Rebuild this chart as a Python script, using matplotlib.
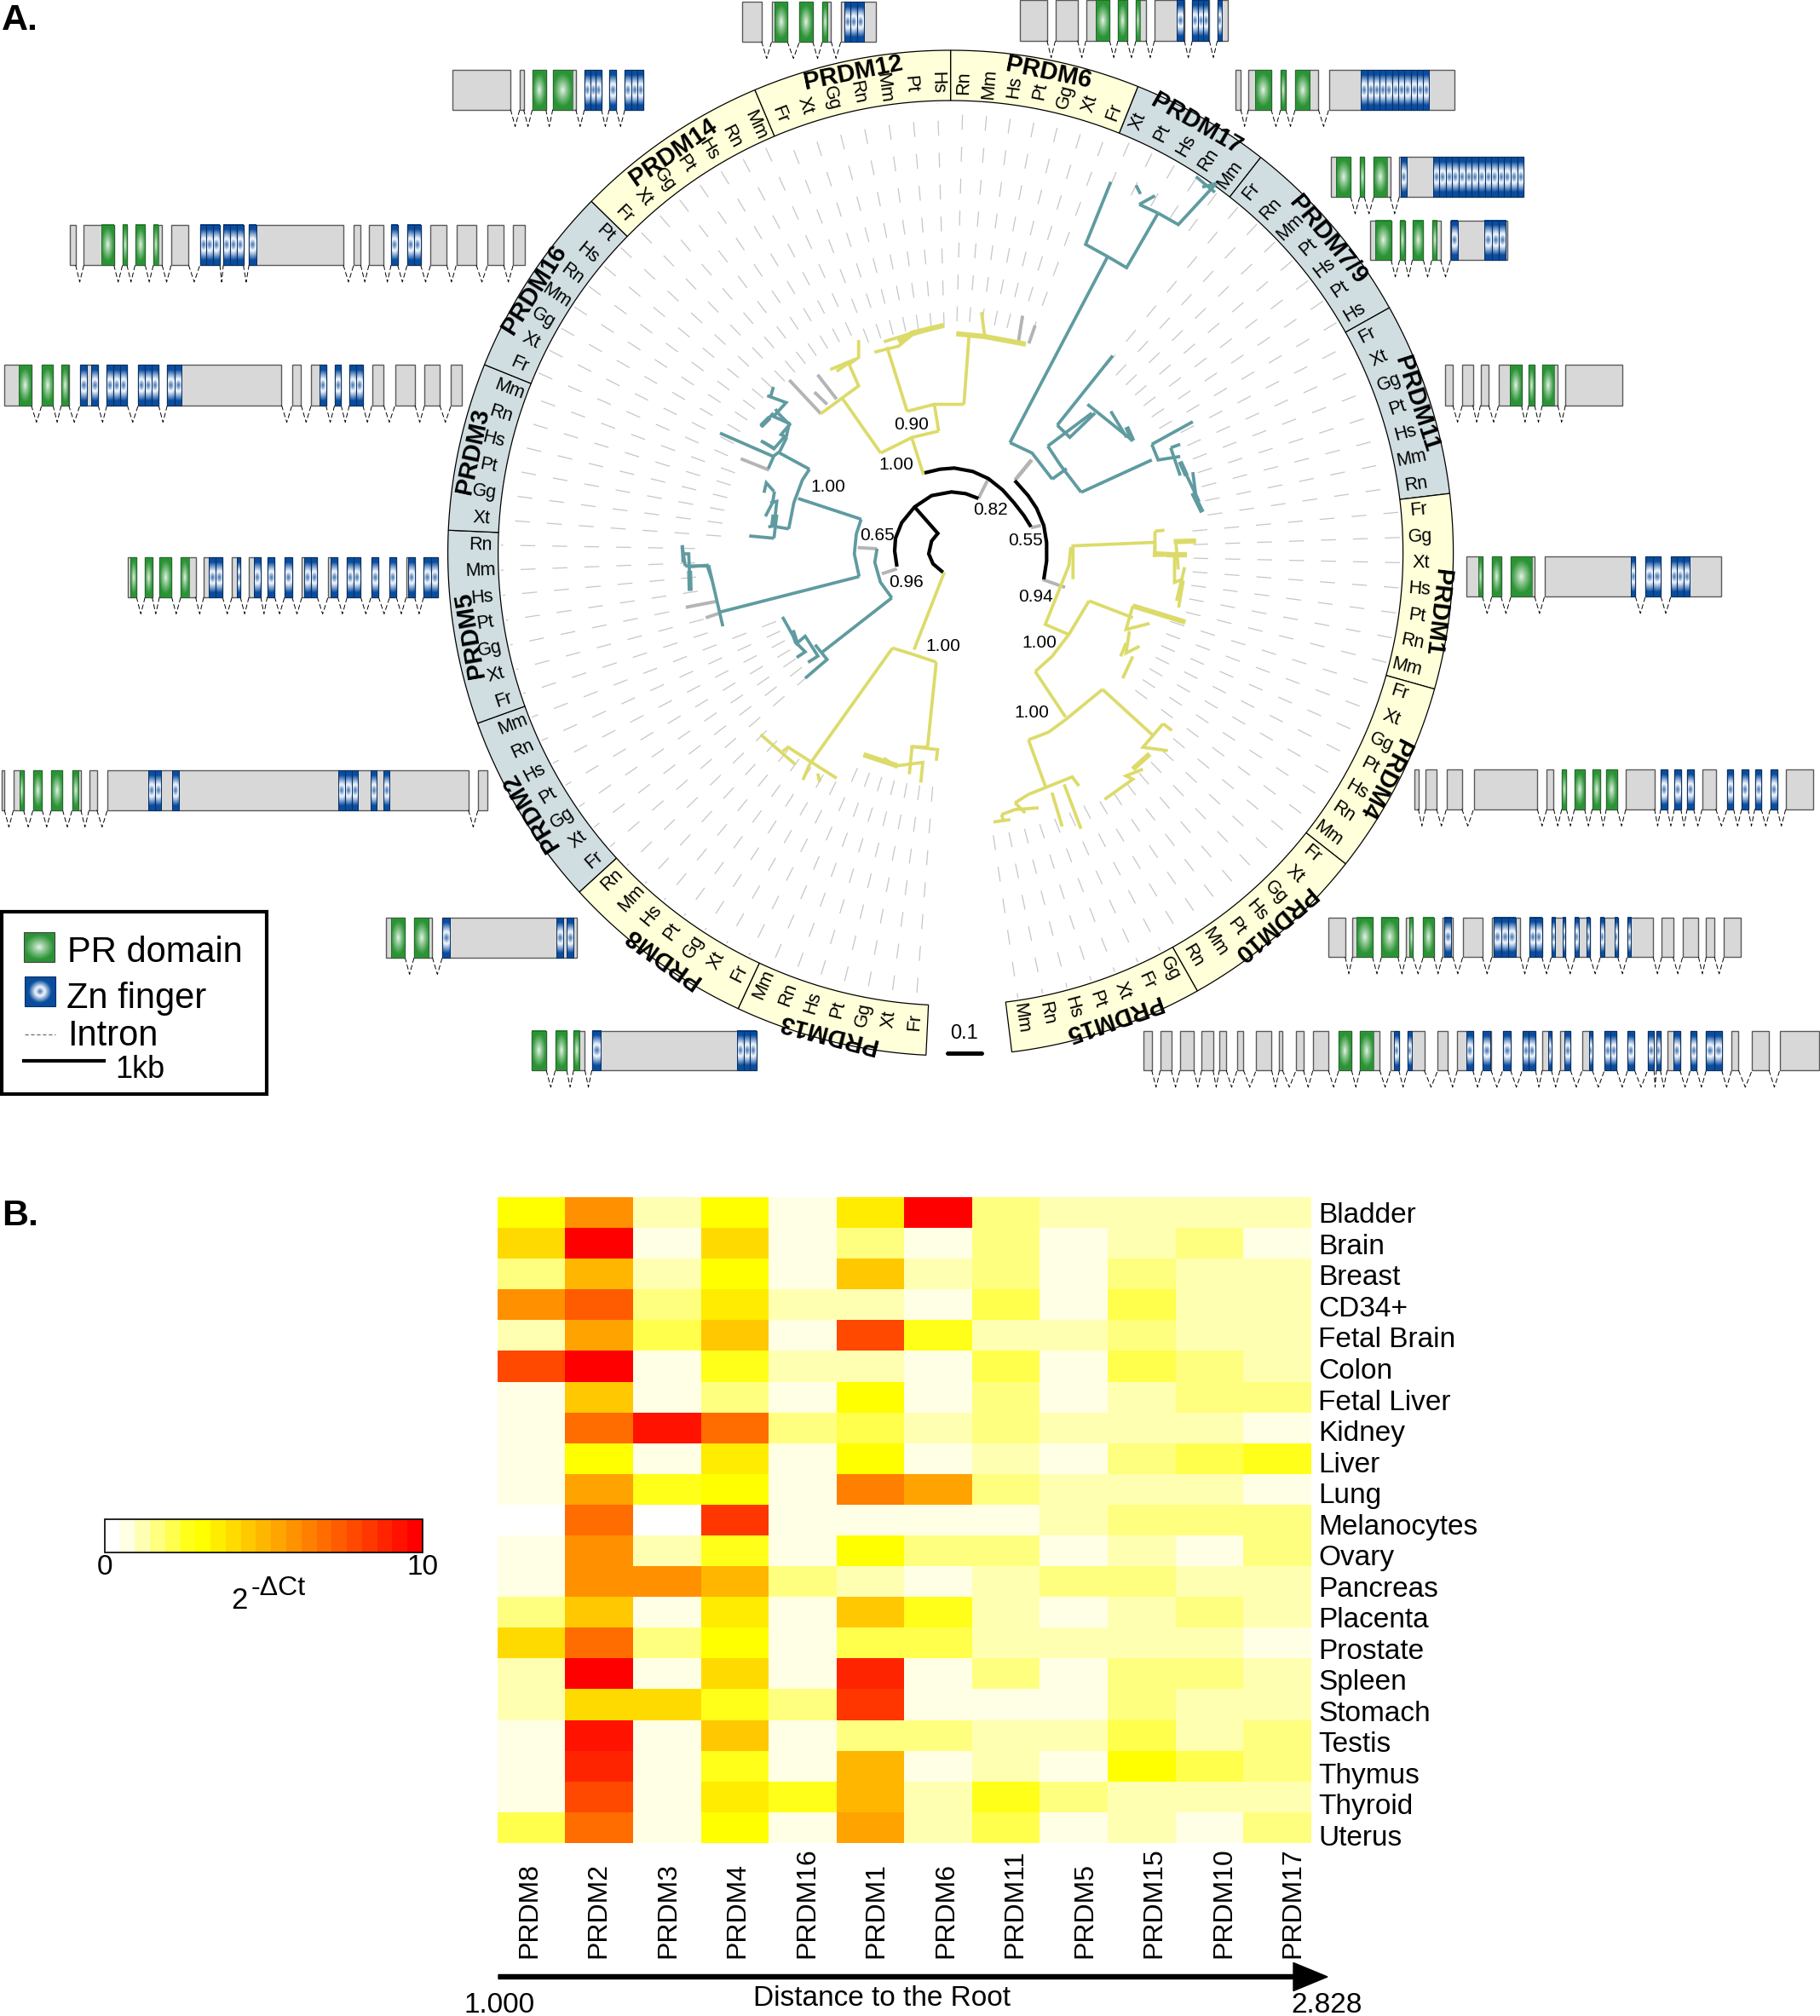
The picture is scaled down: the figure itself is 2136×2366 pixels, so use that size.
import colorsys
import numpy as np
import matplotlib
matplotlib.use('Agg')
import matplotlib.pyplot as plt
from matplotlib.colors import ListedColormap, Normalize
from matplotlib.patches import Rectangle

plt.rcParams['font.family'] = ['Liberation Sans', 'DejaVu Sans']

#-----------------------------------------------------------------------------
# heatmap data
tissues = ['Bladder', 'Brain', 'Breast', 'CD34+', 'Fetal Brain', 'Colon', 'Fetal Liver',
           'Kidney', 'Liver', 'Lung', 'Melanocytes', 'Ovary', 'Pancreas', 'Placenta',
           'Prostate', 'Spleen', 'Stomach', 'Testis', 'Thymus', 'Thyroid', 'Uterus']
genes_hm = ['PRDM8', 'PRDM2', 'PRDM3', 'PRDM4', 'PRDM16', 'PRDM1', 'PRDM6', 'PRDM11',
            'PRDM5', 'PRDM15', 'PRDM10', 'PRDM17']
expr = [
    [3.1, 6.0, 1.2, 3.1, 0.7, 3.6, 9.8, 1.7, 1.2, 1.2, 1.2, 1.2],
    [4.0, 9.8, 0.7, 4.0, 0.7, 1.7, 0.7, 1.7, 0.7, 1.2, 1.7, 0.7],
    [1.7, 5.0, 1.2, 3.1, 0.7, 4.5, 1.2, 1.7, 0.7, 1.7, 1.2, 1.2],
    [6.0, 7.4, 1.7, 3.6, 1.2, 1.2, 0.7, 2.1, 0.7, 2.1, 1.2, 1.2],
    [1.2, 5.5, 2.1, 4.5, 0.7, 7.9, 2.6, 1.2, 1.2, 1.7, 1.2, 1.2],
    [7.9, 9.8, 0.7, 2.6, 1.2, 1.2, 0.7, 2.1, 0.7, 2.1, 1.7, 1.2],
    [0.7, 4.5, 0.7, 1.7, 0.7, 3.1, 0.7, 1.7, 0.7, 1.2, 1.7, 1.7],
    [0.7, 6.9, 9.3, 6.9, 1.7, 2.1, 1.2, 1.7, 1.2, 1.2, 1.2, 0.7],
    [0.7, 3.1, 0.7, 3.6, 0.7, 3.1, 0.7, 1.2, 0.7, 1.7, 2.1, 2.6],
    [0.7, 5.5, 2.6, 3.1, 0.7, 6.4, 5.5, 1.7, 1.2, 1.2, 1.2, 0.7],
    [0.2, 6.9, 0.2, 8.3, 0.7, 0.7, 0.7, 0.7, 1.2, 1.7, 1.7, 1.7],
    [0.7, 6.0, 1.2, 2.6, 0.7, 3.1, 1.7, 1.7, 0.7, 1.2, 0.7, 1.7],
    [0.7, 6.0, 6.0, 5.0, 1.7, 1.2, 0.7, 1.2, 1.7, 1.7, 1.2, 1.2],
    [1.7, 4.5, 0.7, 3.6, 0.7, 4.5, 2.6, 1.2, 0.7, 1.2, 1.7, 1.2],
    [4.0, 6.9, 1.7, 3.1, 0.7, 2.1, 2.1, 1.2, 1.2, 1.2, 1.2, 0.7],
    [1.2, 9.8, 0.7, 4.0, 0.7, 8.8, 0.7, 1.7, 0.7, 1.7, 1.7, 1.2],
    [1.2, 4.0, 4.0, 2.6, 1.7, 8.3, 0.7, 0.7, 0.7, 1.7, 1.2, 1.2],
    [0.7, 9.3, 0.7, 4.5, 0.7, 1.7, 1.7, 1.2, 1.2, 2.1, 1.2, 1.7],
    [0.7, 8.8, 0.7, 2.6, 0.7, 5.0, 0.7, 1.2, 0.7, 3.1, 2.1, 1.7],
    [0.7, 7.9, 0.7, 3.6, 2.6, 5.0, 1.2, 2.6, 1.7, 1.2, 1.2, 1.2],
    [2.1, 6.9, 0.7, 3.1, 0.7, 5.5, 1.2, 2.1, 0.7, 1.2, 0.7, 1.7],
]

# ring: family name, first angle (deg clockwise from top), last angle, background, species
families = [
    ('PRDM6', 0.0, 21.9, 'y', ['Rn', 'Mm', 'Hs', 'Pt', 'Gg', 'Xt', 'Fr']),
    ('PRDM17', 21.9, 38.1, 'b', ['Xt', 'Pt', 'Hs', 'Rn', 'Mm']),
    ('PRDM7/9', 38.1, 60.8, 'b', ['Fr', 'Rn', 'Mm', 'Pt', 'Hs', 'Pt', 'Hs']),
    ('PRDM11', 60.8, 83.2, 'b', ['Fr', 'Xt', 'Gg', 'Pt', 'Hs', 'Mm', 'Rn']),
    ('PRDM1', 83.2, 105.7, 'y', ['Fr', 'Gg', 'Xt', 'Hs', 'Pt', 'Rn', 'Mm']),
    ('PRDM4', 105.7, 128.2, 'y', ['Fr', 'Xt', 'Gg', 'Pt', 'Hs', 'Rn', 'Mm']),
    ('PRDM10', 128.2, 150.6, 'y', ['Fr', 'Xt', 'Gg', 'Hs', 'Pt', 'Mm', 'Rn']),
    ('PRDM15', 150.6, 173.0, 'y', ['Gg', 'Fr', 'Xt', 'Pt', 'Hs', 'Rn', 'Mm']),
    ('PRDM13', 182.8, 205.0, 'y', ['Fr', 'Xt', 'Gg', 'Pt', 'Hs', 'Rn', 'Mm']),
    ('PRDM8', 205.0, 227.6, 'y', ['Fr', 'Xt', 'Gg', 'Pt', 'Hs', 'Mm', 'Rn']),
    ('PRDM2', 227.6, 250.2, 'b', ['Fr', 'Xt', 'Gg', 'Pt', 'Hs', 'Rn', 'Mm']),
    ('PRDM5', 250.2, 272.6, 'b', ['Fr', 'Xt', 'Gg', 'Pt', 'Hs', 'Mm', 'Rn']),
    ('PRDM3', 272.6, 292.0, 'b', ['Xt', 'Gg', 'Pt', 'Hs', 'Rn', 'Mm']),
    ('PRDM16', 292.0, 314.4, 'b', ['Fr', 'Xt', 'Gg', 'Mm', 'Rn', 'Hs', 'Pt']),
    ('PRDM14', 314.4, 337.1, 'y', ['Fr', 'Xt', 'Gg', 'Pt', 'Hs', 'Rn', 'Mm']),
    ('PRDM12', 337.1, 360.0, 'y', ['Fr', 'Xt', 'Gg', 'Rn', 'Mm', 'Pt', 'Hs']),
]
# family label angle and radius, radius where the dashed leaf lines start
label_angle = {'PRDM6': 11.5, 'PRDM17': 29.8, 'PRDM7/9': 50.3, 'PRDM11': 72.2, 'PRDM1': 97.0,
               'PRDM4': 117.5, 'PRDM10': 139.0, 'PRDM15': 160.8, 'PRDM13': 194.4, 'PRDM8': 215.5,
               'PRDM2': 238.4, 'PRDM5': 260.3, 'PRDM3': 282.0, 'PRDM16': 302.3, 'PRDM14': 325.3,
               'PRDM12': 348.5}
label_r = {'PRDM6': 575, 'PRDM17': 580, 'PRDM7/9': 576, 'PRDM11': 574, 'PRDM1': 575,
           'PRDM4': 574, 'PRDM10': 577, 'PRDM15': 578, 'PRDM13': 582, 'PRDM8': 583,
           'PRDM2': 579, 'PRDM5': 572, 'PRDM3': 573, 'PRDM16': 578, 'PRDM14': 572,
           'PRDM12': 575}
leaf_start = {'PRDM6': 272, 'PRDM17': 470, 'PRDM7/9': 285, 'PRDM11': 305, 'PRDM1': 285,
              'PRDM4': 270, 'PRDM10': 340, 'PRDM15': 335, 'PRDM13': 275, 'PRDM8': 300,
              'PRDM2': 220, 'PRDM5': 300, 'PRDM3': 270, 'PRDM16': 285, 'PRDM14': 280,
              'PRDM12': 265}

# node supports
node_labels = [('0.90', 1070, 498), ('1.00', 1052, 545), ('1.00', 972, 571), ('0.65', 1029, 628),
               ('0.82', 1162, 598), ('0.55', 1203, 634), ('0.94', 1216, 700), ('0.96', 1064, 683),
               ('1.00', 1107, 758), ('1.00', 1220, 754), ('1.00', 1211, 836)]

crop_a = (560, 40, 0.74, 0.408)
crop_b = (500, 640, 0.79, 0.395)
crop_c = (760, 480, 1 / 3, 1 / 3)

black_c = [
    [(975, 225), (1030, 212), (1080, 208), (1145, 220), (1200, 245), (1250, 285), (1290, 330), (1325, 375), (1350, 415)],
    [(1293, 252), (1340, 305), (1370, 350), (1395, 410), (1405, 470), (1405, 535), (1395, 600)],
    [(878, 555), (870, 500), (873, 455), (895, 400), (940, 345), (1000, 305), (1070, 292), (1120, 298), (1165, 315)],
    [(940, 345), (1022, 438), (1000, 465), (990, 510), (1005, 545), (1040, 575)],
]
grey_c = [
    [(1165, 315), (1200, 245)], [(1350, 418), (1385, 410)], [(1293, 250), (1350, 180)],
    [(1390, 600), (1470, 628)], [(878, 563), (825, 580)], [(740, 488), (808, 492)],
    [(328, 175), (428, 215)], [(135, 698), (240, 678)], [(205, 735), (250, 720)],
]
grey_a = [
    [(855, 1280), (880, 1225)], [(865, 810), (858, 890)], [(885, 838), (875, 890)],
    [(495, 995), (545, 1092)], [(540, 980), (570, 1050)], [(535, 1030), (555, 1065)],
]
teal_c = [
    [(808, 492), (800, 540), (820, 610), (860, 665)], [(860, 665), (610, 860)],
    [(752, 388), (735, 440), (728, 510), (745, 590)], [(752, 388), (530, 315)], [(745, 590), (255, 715)],
    [(570, 212), (545, 250), (515, 330), (497, 422)], [(570, 212), (465, 155)],
    [(425, 210), (445, 165), (465, 150), (490, 100)], [(255, 85), (445, 168)],
    [(405, 115), (445, 140), (480, 100)], [(490, 100), (470, 90), (500, 55), (460, 15), (450, 0)],
    [(430, 30), (400, 60)], [(497, 422), (455, 415)], [(455, 372), (445, 455)], [(358, 447), (445, 455)],
    [(425, 415), (455, 410)], [(447, 290), (440, 330), (415, 378)], [(410, 295), (418, 260), (445, 290)],
    [(432, 330), (455, 325), (450, 370), (445, 410)],
    [(215, 550), (265, 765)], [(150, 555), (215, 550)], [(122, 480), (125, 540)],
    [(122, 510), (145, 510), (150, 640)],
    [(590, 830), (632, 882), (555, 948)], [(475, 732), (530, 830)],
    [(510, 780), (525, 825), (555, 800), (600, 870), (565, 892)], [(525, 875), (555, 855), (525, 825)],
]
teal_c_thick = [[(445, 372), (440, 415)], [(510, 780), (525, 825)], [(430, 30), (400, 60)], [(148, 570), (150, 640)]]
teal_a = [
    [(1005, 425), (965, 605), (1000, 640), (1030, 672), (1080, 515)], [(845, 1175), (1000, 640)],
    [(1080, 515), (1112, 548), (1172, 430)], [(1050, 490), (1080, 515)], [(1050, 490), (1075, 465)],
    [(1045, 435), (1052, 460)], [(1140, 410), (1170, 455)], [(1150, 440), (1172, 430)],
    [(845, 1175), (880, 1205), (895, 1240), (912, 1280)], [(912, 1280), (935, 1250)],
    [(905, 1185), (925, 1240), (958, 1318)], [(905, 1185), (975, 1090)],
    [(958, 1318), (1070, 1225)], [(920, 1125), (940, 1160), (980, 1090)], [(920, 1125), (1008, 925)],
    [(968, 1065), (1040, 1170)], [(1005, 1085), (1030, 1160)], [(1070, 1180), (1135, 1115)],
    [(1070, 1180), (1080, 1225), (1115, 1215)], [(1100, 1190), (1115, 1180)], [(1100, 1190), (1115, 1270)],
    [(1115, 1230), (1145, 1345)], [(1135, 1260), (1140, 1330)], [(1135, 1320), (1150, 1375)],
    [(460, 1040), (490, 1060), (470, 1100), (495, 1120), (490, 1160)], [(470, 1015), (465, 1045)],
    [(450, 1130), (470, 1090)], [(450, 1170), (470, 1190)],
    [(325, 1470), (330, 1530)], [(330, 1530), (365, 1530), (372, 1568)],
]
teal_a_thick = [[(1030, 1130), (1040, 1170)], [(1135, 1320), (1150, 1375)], [(1115, 1230), (1125, 1270)]]
yellow_a = [
    [(708, 1268), (690, 1165)], [(640, 1205), (690, 1160), (732, 1142)], [(732, 1142), (725, 1065)],
    [(640, 1205), (580, 1050)], [(682, 1085), (725, 1065), (772, 1065)], [(682, 1085), (650, 900)],
    [(772, 1065), (780, 870)], [(760, 862), (805, 870), (870, 892)], [(800, 800), (805, 870)],
    [(630, 915), (668, 898), (690, 865), (740, 838)], [(645, 885), (690, 860)],
    [(545, 1092), (605, 1012), (590, 950), (605, 930), (605, 880)], [(560, 965), (600, 935)],
    [(570, 970), (590, 945)],
    [(945, 1568), (945, 1472), (1075, 1462)], [(1075, 1430), (1075, 1492), (1125, 1497)],
    [(1075, 1430), (1090, 1427)], [(1105, 1460), (1140, 1458)], [(1108, 1460), (1112, 1540)],
]
yellow_a_thick = [[(760, 862), (805, 870), (870, 892)], [(668, 885), (690, 860), (740, 838)],
                  [(1105, 1460), (1140, 1458)], [(1105, 1497), (1125, 1497)]]
yellow_b = [
    [(770, 80), (725, 310)], [(693, 305), (725, 325), (758, 347)], [(758, 347), (745, 600)], [(693, 305), (570, 650)],
    [(497, 562), (548, 650)], [(530, 612), (538, 600), (610, 692)], [(570, 650), (560, 697)], [(582, 678), (585, 703)],
    [(650, 622), (700, 655)], [(745, 600), (722, 598), (720, 640)], [(722, 598), (760, 607), (758, 640)],
    [(700, 655), (738, 645), (735, 705)], [(720, 640), (718, 680)], [(680, 632), (700, 660)],
    [(1083, 0), (1082, 30), (1130, 28)], [(1112, 30), (1112, 110), (1125, 100)], [(1127, 65), (1115, 165)],
    [(1125, 105), (1118, 185)],
    [(958, 5), (955, 60), (945, 110), (920, 235), (955, 265)], [(985, 165), (955, 265), (930, 330), (905, 375)],
    [(985, 165), (1050, 215)], [(1050, 180), (1128, 228)], [(1050, 180), (1040, 250), (1075, 232)],
    [(1045, 255), (1040, 320), (1060, 300)], [(1040, 290), (1032, 330)], [(1050, 330), (1035, 395)],
    [(905, 375), (950, 510)], [(895, 578), (925, 555), (950, 518), (1005, 428)], [(1005, 428), (1080, 565)],
    [(1095, 530), (1065, 600), (1102, 610)], [(1095, 530), (1108, 550)], [(1075, 620), (1050, 665)],
    [(1065, 665), (1040, 685), (1050, 695), (1008, 755)],
    [(895, 578), (920, 715)], [(895, 740), (960, 688), (970, 715)], [(930, 735), (945, 835)], [(948, 710), (973, 842)],
    [(875, 765), (895, 740)], [(875, 765), (890, 795)], [(855, 800), (875, 785), (910, 780)],
    [(855, 800), (858, 820)], [(843, 822), (868, 815)],
]
yellow_b_thick = [[(650, 622), (700, 655)], [(1075, 620), (1050, 665)], [(1100, 28), (1130, 28)], [(1050, 180), (1128, 228)]]

# gene models: name, crop origin x, crop scale x, top, bottom, exons, PR domains, Zn fingers
g14 = ('PRDM14', 0, 0.51, 81.7, 128.6,
       [(1042, 1175), (1196, 1205), (1225, 1256), (1272, 1325), (1345, 1384), (1402, 1418), (1438, 1480)],
       [(1225, 1256), (1272, 1317)], [(1345, 1384), (1402, 1418), (1438, 1480)])
g16 = ('PRDM16', 0, 0.51, 263.5, 311,
       [(161, 174), (193, 262), (282, 292), (311, 334), (353, 373), (394, 434), (460, 506), (514, 560), (573, 790),
        (814, 830), (849, 883), (900, 915), (937, 968), (991, 1028), (1050, 1096), (1122, 1159), (1181, 1208)],
       [(233, 262), (282, 292), (311, 334), (353, 364)],
       [(460, 506), (514, 560), (573, 590), (900, 915), (937, 968)])
g3 = ('PRDM3', 0, 0.51, 428.4, 475.7,
      [(9, 72), (96, 122), (141, 158), (184, 226), (246, 293), (318, 365), (385, 648), (672, 693), (716, 750),
       (770, 785), (804, 835), (856, 883), (909, 955), (977, 1012), (1038, 1063)],
      [(44, 72), (96, 122), (141, 157)],
      [(184, 200), (210, 226), (246, 293), (318, 365), (385, 417), (735, 750), (770, 785), (804, 835)])
g5 = ('PRDM5', 0, 0.51, 653.8, 700.6,
      [(295, 314), (334, 350), (367, 395), (416, 450), (469, 512), (534, 553), (573, 600), (615, 632), (655, 672),
       (695, 730), (755, 777), (799, 830), (854, 871), (897, 912), (935, 954), (975, 1008)],
      [(300, 314), (334, 350), (367, 395), (416, 435)],
      [(480, 512), (545, 553), (585, 600), (615, 632), (655, 672), (700, 730), (760, 777), (799, 830),
       (854, 871), (897, 912), (939, 954), (975, 1008)])
g2 = ('PRDM2', 0, 0.51, 904, 950.7,
      [(3, 10), (31, 54), (76, 97), (118, 144), (166, 186), (205, 223), (247, 1078), (1100, 1122)],
      [(46, 54), (76, 97), (118, 144), (166, 181)],
      [(342, 371), (396, 411), (779, 824), (852, 866), (883, 897)])
g8 = ('PRDM8', 0, 0.51, 1077, 1123.6,
      [(888, 932), (953, 995), (1018, 1328)],
      [(900, 932), (953, 987)],
      [(1018, 1036), (1280, 1296), (1303, 1320)])
g13 = ('PRDM13', 0, 0.51, 1209.7, 1256,
       [(1224, 1257), (1278, 1304), (1320, 1346), (1362, 1741)],
       [(1224, 1257), (1278, 1304), (1320, 1334)],
       [(1362, 1382), (1696, 1741)])
g15 = ('PRDM15', 1300, 0.533, 1210, 1256,
       [(79, 97), (116, 140), (159, 190), (207, 232), (246, 261), (285, 299), (327, 361), (378, 385), (415, 431),
        (452, 486), (509, 537), (556, 599), (623, 641), (660, 697), (727, 749), (770, 804), (825, 844), (870, 887),
        (913, 942), (957, 977), (996, 1019), (1045, 1067), (1094, 1121), (1145, 1160), (1189, 1203), (1208, 1217),
        (1232, 1260), (1283, 1297), (1318, 1352), (1374, 1389), (1419, 1456), (1480, 1566)],
       [(509, 537), (556, 585)],
       [(630, 641), (660, 669), (790, 804), (825, 842), (870, 887), (913, 942), (970, 977), (1005, 1019), (1060, 1067),
        (1094, 1121), (1145, 1160), (1189, 1203), (1208, 1217), (1245, 1260), (1283, 1297), (1318, 1352)])
g10 = ('PRDM10', 1300, 0.533, 1076.6, 1123,
       [(485, 523), (539, 583), (603, 639), (657, 672), (695, 718), (737, 760), (782, 825), (846, 909), (928, 956),
        (977, 1008), (1029, 1062), (1085, 1123), (1144, 1201), (1220, 1245), (1266, 1301), (1318, 1336), (1357, 1394)],
       [(547, 583), (603, 639), (664, 672), (695, 718)],
       [(741, 757), (850, 898), (928, 956), (977, 985), (1001, 1008), (1029, 1037), (1055, 1062), (1085, 1093),
        (1116, 1123), (1144, 1152)])
g4 = ('PRDM4', 1300, 0.533, 902.8, 949.5,
      [(676, 684), (700, 724), (746, 780), (806, 946), (967, 982), (1000, 1010), (1028, 1050), (1067, 1084), (1098, 1122),
       (1141, 1204), (1218, 1232), (1248, 1262), (1276, 1290), (1309, 1339), (1364, 1378), (1396, 1410), (1425, 1439),
       (1459, 1474), (1493, 1554)],
      [(1000, 1010), (1028, 1050), (1067, 1084), (1098, 1122)],
      [(1218, 1232), (1248, 1262), (1276, 1290), (1364, 1378), (1396, 1410), (1425, 1439), (1459, 1474)])
g1 = ('PRDM1', 1300, 0.533, 653, 700,
      [(790, 825), (846, 866), (888, 940), (962, 1162), (1184, 1218), (1240, 1350)],
      [(816, 825), (846, 866), (888, 934)],
      [(1152, 1162), (1184, 1218), (1240, 1282)])
g11 = ('PRDM11', 1300, 0.533, 428, 475.6,
       [(743, 760), (781, 804), (821, 839), (861, 911), (927, 940), (957, 991), (1008, 1134)],
       [(886, 911), (927, 940), (957, 983)], [])
g9 = ('PRDM9', 1300, 0.533, 258.5, 305,
      [(578, 624), (643, 654), (671, 695), (714, 733), (755, 880)],
      [(590, 624), (643, 654), (671, 695), (714, 724)],
      [(757, 772), (830, 877)])
g7 = ('PRDM7', 1300, 0.533, 184, 231,
      [(491, 535), (555, 565), (586, 622), (642, 916)],
      [(503, 535), (555, 565), (586, 616)],
      [(645, 658), (716, 916)])
g17 = ('PRDM17', 1300, 0.533, 81.7, 128.5,
       [(282, 293), (310, 360), (381, 392), (413, 464), (487, 764)],
       [(325, 360), (381, 392), (413, 445)],
       [(558, 708)])
g12 = ('PRDM12', 840, 0.408, 1.7, 48.7,
       [(75, 132), (161, 206), (241, 279), (307, 332), (360, 460)],
       [(168, 206), (241, 279), (307, 322)],
       [(369, 426)])
g6 = ('PRDM6', 840, 0.408, 0, 47.7,
      [(875, 953), (977, 1041), (1065, 1133), (1157, 1183), (1209, 1238), (1262, 1348), (1371, 1420), (1443, 1474)],
      [(1092, 1133), (1157, 1183), (1209, 1221)],
      [(1326, 1346), (1371, 1417), (1443, 1455)])
gene_models = [g14, g16, g3, g5, g2, g8, g13, g15, g10, g4, g1, g11, g9, g7, g17, g12, g6]

#-----------------------------------------------------------------------------
W, H = 2136, 2366
fig = plt.figure(figsize=(W / 100, H / 100), dpi=100)
ax = fig.add_axes([0, 0, 1, 1])
ax.set_autoscale_on(False)
ax.set_xlim(0, W)
ax.set_ylim(H, 0)
ax.axis('off')

CX, CY = 1115.6, 649.0
R_IN, R_OUT = 531.0, 590.0
ring_colors = {'y': '#FFFFD9', 'b': '#D0DEE1'}
TEAL, YELLOW, GREY = '#5F9BA0', '#DCDB6A', '#B4B4B4'


def polar(theta, r):
    t = np.radians(theta)
    return CX + r * np.sin(t), CY - r * np.cos(t)


# ring and leaf lines
for name, a0, a1, col, species in families:
    th = np.linspace(a0, a1, 40)
    xo, yo = polar(th, R_OUT)
    xi, yi = polar(th[::-1], R_IN)
    ax.fill(np.r_[xo, xi], np.r_[yo, yi], facecolor=ring_colors[col], edgecolor='k', lw=0.9, zorder=2)
    step = (a1 - a0) / len(species)
    for i, sp in enumerate(species):
        a = a0 + (i + 0.5) * step
        x, y = polar(a, 552)
        rot = 90 - a if a < 180 else 270 - a
        ax.text(x, y, sp, fontsize=15.5, rotation=rot, rotation_mode='anchor', ha='center', va='center', zorder=5)
        x0, y0 = polar(a, leaf_start[name])
        x1, y1 = polar(a, R_IN - 3)
        ax.plot([x0, x1], [y0, y1], color='#C6C6C6', lw=0.9, dashes=(14, 16), zorder=1)
    x, y = polar(label_angle[name], label_r[name])
    ax.text(x, y, name, fontsize=21, fontweight='bold', rotation=-label_angle[name], rotation_mode='anchor',
            ha='center', va='center', zorder=6)


# tree
def draw_branches(segs, crop, color, lw, zorder=3):
    ox, oy, sx, sy = crop
    for seg in segs:
        pts = np.array(seg, dtype=float)
        ax.plot(ox + pts[:, 0] * sx, oy + pts[:, 1] * sy, color=color, lw=lw, zorder=zorder,
                solid_capstyle='butt', solid_joinstyle='miter')


draw_branches(grey_c, crop_c, GREY, 2.8)
draw_branches(grey_a, crop_a, GREY, 2.8)
draw_branches(teal_c, crop_c, TEAL, 2.7)
draw_branches(teal_a, crop_a, TEAL, 2.7)
draw_branches(teal_c_thick, crop_c, TEAL, 4.2)
draw_branches(teal_a_thick, crop_a, TEAL, 4.2)
draw_branches(yellow_a, crop_a, YELLOW, 2.7)
draw_branches(yellow_b, crop_b, YELLOW, 2.7)
draw_branches(yellow_a_thick, crop_a, YELLOW, 4.4)
draw_branches(yellow_b_thick, crop_b, YELLOW, 4.4)
draw_branches(black_c, crop_c, 'k', 3.0, zorder=4)

for txt, x, y in node_labels:
    ax.text(x, y, txt, fontsize=15, ha='center', va='center', zorder=6)

ax.text(1132, 1213, '0.1', fontsize=17, ha='center', va='center')
ax.plot([1112, 1152], [1236, 1236], color='k', lw=3.6, solid_capstyle='round')

# domain gradients
gy, gx = np.mgrid[-1:1:48j, -1:1:24j]


def green_img():
    rad = np.sqrt((gx * 0.85) ** 2 + gy ** 2)
    t = np.clip(rad / 0.85, 0, 1)[..., None] ** 0.8
    return (1 - t) * np.array([0.95, 0.98, 0.95]) + t * np.array([0.17, 0.58, 0.21])


def zn_img(squeeze):
    dark = np.array([0.04, 0.30, 0.62])
    rad = np.sqrt((gx * squeeze) ** 2 + gy ** 2)
    t = np.abs(rad - 0.3) / 0.3
    t = np.clip(np.where(rad < 0.3, t * 0.8, t / 1.6), 0, 1)[..., None]
    return (1 - t) * np.array([0.97, 0.98, 1.0]) + t * dark


GREEN = green_img()
ZN = zn_img(0.3)


def draw_domain(img, x0, x1, y0, y1, edge, lw=0.7):
    ax.imshow(img, extent=(x0, x1, y1, y0), aspect='auto', interpolation='bilinear', zorder=3)
    ax.add_patch(Rectangle((x0, y0), x1 - x0, y1 - y0, fill=False, ec=edge, lw=lw, zorder=4))


for name, ox, sx, top, bot, exons, prs, zns in gene_models:
    ex = [(ox + a * sx, ox + b * sx) for a, b in exons]
    for a, b in ex:
        ax.add_patch(Rectangle((a, top), b - a, bot - top, fc='#D8D8D8', ec='#5A5A5A', lw=1.0, zorder=2))
    for a, b in prs:
        draw_domain(GREEN, ox + a * sx, ox + b * sx, top, bot, '#1E5F25', 0.5)
    for a, b in zns:
        a, b = ox + a * sx, ox + b * sx
        n = max(1, int(round((b - a) / 7.5)))
        e = np.linspace(a, b, n + 1)
        for k in range(n):
            draw_domain(ZN, e[k], e[k + 1], top, bot, '#062F60', 0.7)
    for (a0, b0), (a1, b1) in zip(ex[:-1], ex[1:]):
        mid = (b0 + a1) / 2
        ax.plot([b0, mid, a1], [bot, bot + 20, bot], color='k', lw=0.7, dashes=(6, 3), zorder=2)

# legend
ax.add_patch(Rectangle((2, 1070), 311, 214, fill=False, ec='k', lw=3))
draw_domain(GREEN, 28, 64, 1094, 1129, '#444444', 0.8)
draw_domain(zn_img(1.0), 29, 65, 1146, 1181, '#062F60', 0.8)
ax.text(79, 1118, 'PR domain', fontsize=30, ha='left', va='center')
ax.text(78, 1172, 'Zn finger', fontsize=30, ha='left', va='center')
ax.plot([29, 65], [1213.5, 1213.5], color='#777777', lw=1, dashes=(3, 2))
ax.text(79, 1216, 'Intron', fontsize=30, ha='left', va='center')
ax.plot([28, 122], [1245, 1245], color='k', lw=3)
ax.text(135, 1255, '1kb', fontsize=26, ha='left', va='center')

ax.text(2, 24, 'A.', fontsize=31, fontweight='bold', ha='left', va='center')
ax.text(2, 1427, 'B.', fontsize=31, fontweight='bold', ha='left', va='center')

# heatmap
steps = [colorsys.hsv_to_rgb(h, 1, 1) for h in np.linspace(1 / 6, 0, 15)]
pale = [colorsys.hsv_to_rgb(1 / 6, s, 1) for s in [0.1, 0.3, 0.5, 0.7, 0.9]]
cmap = ListedColormap([(1, 1, 1)] + pale + steps)
norm = Normalize(0, 10)

hm = fig.add_axes([584.3 / W, 1 - 2163 / H, (1539 - 584.3) / W, (2163 - 1405.3) / H])
im = hm.imshow(np.array(expr), cmap=cmap, norm=norm, aspect='auto', interpolation='nearest')
# the labels in the reference run a little wider than the cells
hm.set_xticks(-0.04 + 1.0247 * np.arange(len(genes_hm)))
hm.set_xticklabels(genes_hm, rotation=90, va='bottom', ha='center', fontsize=23)
hm.set_yticks(1.0125 * np.arange(len(tissues)))
hm.set_yticklabels(tissues, fontsize=24)
hm.yaxis.tick_right()
hm.tick_params(axis='x', length=0, pad=97)
hm.tick_params(axis='y', length=0, pad=6)
for s in hm.spines.values():
    s.set_visible(False)

# colour key
cax = fig.add_axes([122.7 / W, 1 - 1821.7 / H, (496 - 122.7) / W, (1821.7 - 1783.3) / H])
cb = fig.colorbar(im, cax=cax, orientation='horizontal', ticks=[0, 10])
cb.ax.tick_params(length=0, labelsize=24, pad=2)
cb.outline.set_linewidth(1.2)
ax.text(281, 1878, '2', fontsize=25, ha='center', va='center')
ax.text(295, 1864, '-\u0394Ct', fontsize=23, ha='left', va='center')

# distance axis
ax.arrow(585, 2320, 973, 0, width=5, head_width=33, head_length=40, length_includes_head=True, color='k', zorder=3)
ax.text(1035, 2345, 'Distance to the Root', fontsize=24, ha='center', va='center')
ax.text(586, 2362, '1.000', fontsize=24, ha='center', va='baseline')
ax.text(1557, 2362, '2.828', fontsize=24, ha='center', va='baseline')

ax.set_xlim(0, W)
ax.set_ylim(H, 0)
fig.savefig('out.png', dpi=100)
